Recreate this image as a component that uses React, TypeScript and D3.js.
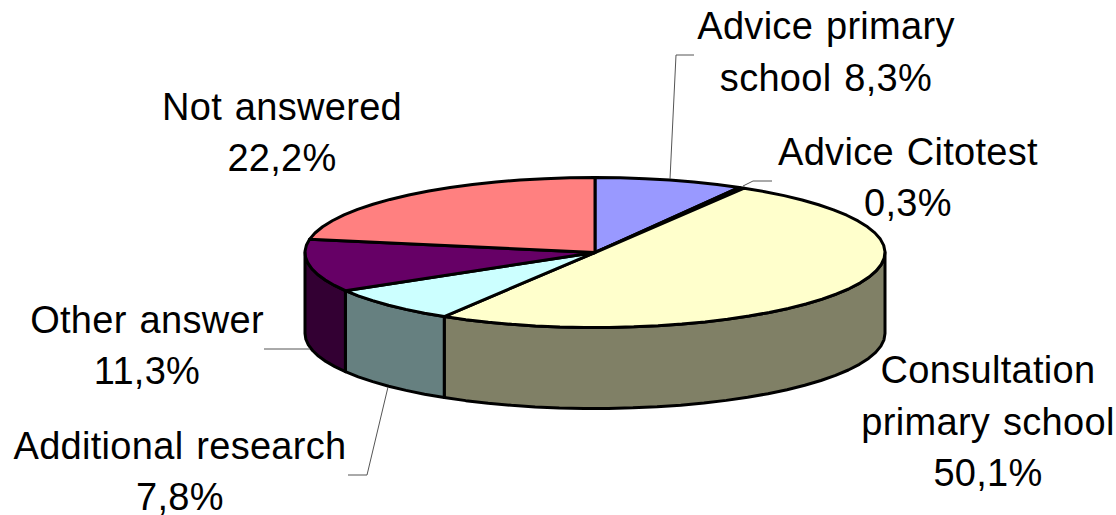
import React from "react";
import * as d3 from "d3";

// Survey shares, in percent, clockwise from twelve o'clock
const categories = [
  "Advice primary school",
  "Advice Citotest",
  "Consultation primary school",
  "Additional research",
  "Other answer",
  "Not answered",
];
const shares = [8.3, 0.3, 50.1, 7.8, 11.3, 22.2];
const topColors = ["#9999FF", "#993366", "#FFFFCC", "#CCFFFF", "#660066", "#FF8080"];
const sideColors = ["#4D4D80", "#4D1A33", "#808066", "#668080", "#330033", "#804040"];

// Label text is broken into lines per slice; anchors give the centre and first baseline
const labelLines = [
  ["Advice primary", "school 8,3%"],
  ["Advice Citotest", "0,3%"],
  ["Consultation", "primary school", "50,1%"],
  ["Additional research", "7,8%"],
  ["Other answer", "11,3%"],
  ["Not answered", "22,2%"],
];
const labelAnchors: [number, number][] = [
  [826, 39],
  [908, 164.5],
  [988, 383],
  [180, 458.5],
  [147, 332.5],
  [282, 119.5],
];
const leaderPaths: [number, number][][] = [
  [[694, 55], [676, 55], [670, 179]],
  [[772, 181], [753, 181], [743, 186]],
  [[264, 349], [310, 349]],
  [[348, 475], [367, 475], [388, 387]],
];

const WIDTH = 1116;
const HEIGHT = 515;
const CX = 595;
const CY = 252.5;
const RX = 290;
const RY = 75;
const DEPTH = 81;
const LINE_GAP = 51.5;
const FONT_SIZE = 38;

const rimX = d3.scaleLinear().domain([-1, 1]).range([CX - RX, CX + RX]);
const rimY = d3.scaleLinear().domain([-1, 1]).range([CY - RY, CY + RY]);
const rimPoint = (a: number): [number, number] => [rimX(Math.sin(a)), rimY(-Math.cos(a))];
const line = d3.line();

// Samples a stretch of the rim from a0 to a1
function rimArc(a0: number, a1: number, dy = 0): [number, number][] {
  const steps = Math.max(1, Math.ceil((a1 - a0) / (Math.PI / 36)));
  return d3.range(steps + 1).map((i) => {
    const [x, y] = rimPoint(a0 + ((a1 - a0) * i) / steps);
    return [x, y + dy] as [number, number];
  });
}

export default function App() {
  const arcs = d3.pie<number>().sort(null).value((d) => d)(shares);
  const frontStart = Math.PI / 2;
  const frontEnd = (3 * Math.PI) / 2;

  return (
    <svg
      width={WIDTH}
      height={HEIGHT}
      viewBox={`0 0 ${WIDTH} ${HEIGHT}`}
      style={{ position: "absolute", left: 0, top: 0, background: "#fff" }}
      fontFamily="'Liberation Sans', Arial, sans-serif"
    >
      {/* Outer wall, only where it faces the viewer */}
      {arcs.map((a, i) => {
        const s = Math.max(a.startAngle, frontStart);
        const e = Math.min(a.endAngle, frontEnd);
        if (e <= s) return null;
        const top = rimArc(s, e);
        const bottom = rimArc(s, e, DEPTH).reverse();
        return (
          <path
            key={categories[i]}
            d={line([...top, ...bottom]) + "Z"}
            fill={sideColors[i]}
            stroke="#000"
            strokeWidth={3}
            strokeLinejoin="round"
          />
        );
      })}
      {/* Top face */}
      {arcs.map((a, i) => (
        <path
          key={categories[i]}
          d={line([[CX, CY], ...rimArc(a.startAngle, a.endAngle)]) + "Z"}
          fill={topColors[i]}
          stroke="#000"
          strokeWidth={3}
          strokeLinejoin="round"
        />
      ))}
      {/* Leader lines */}
      {leaderPaths.map((p, i) => (
        <path key={i} d={line(p) ?? ""} fill="none" stroke="#555" strokeWidth={1} />
      ))}
      {/* Slice labels */}
      {labelLines.map((lines, i) => (
        <text
          key={categories[i]}
          textAnchor="middle"
          fontSize={FONT_SIZE}
          fill="#000"
          letterSpacing={0.3}
          wordSpacing={2}
        >
          {lines.map((t, j) => (
            <tspan
              key={j}
              x={labelAnchors[i][0]}
              y={labelAnchors[i][1] + j * LINE_GAP}
            >
              {t}
            </tspan>
          ))}
        </text>
      ))}
    </svg>
  );
}
